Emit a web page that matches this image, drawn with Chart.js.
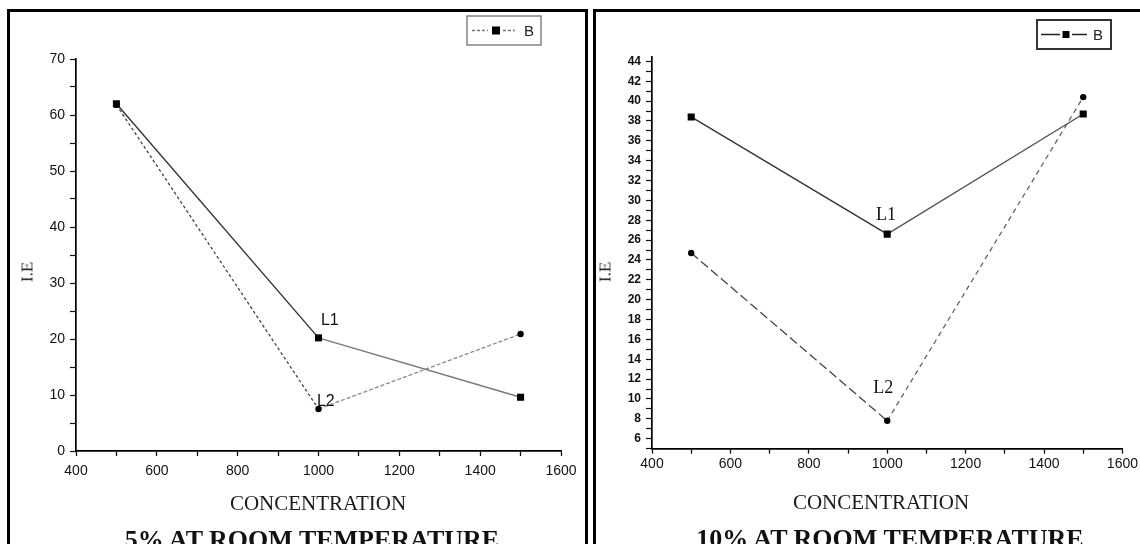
<!DOCTYPE html>
<html>
<head>
<meta charset="utf-8">
<script src="https://cdn.jsdelivr.net/npm/chart.js@4.4.0/dist/chart.umd.min.js"></script>
<style>
  html, body { margin:0; padding:0; background:#fff; width:1140px; height:544px; overflow:hidden; position:relative; }
  .panel { position:absolute; box-sizing:border-box; border:3px solid #000; border-bottom:none; }
  canvas { position:absolute; }
  .t { position:absolute; white-space:nowrap; color:#1a1a1a; line-height:1; }
  .serif { font-family:"Liberation Serif","DejaVu Serif",serif; }
  .axt { font-size:21px; transform:translate(-50%,-50%); }
  .ttl { font-size:26px; font-weight:bold; transform:translateX(-50%); color:#111; }
  .yt { font-size:17px; transform:translate(-50%,-50%) rotate(-90deg); }
</style>
</head>
<body>
<div class="panel" style="left:7px;top:9px;width:581px;height:600px;"></div>
<div class="panel" style="left:593px;top:9px;width:600px;height:600px;"></div>

<canvas id="c5" width="575" height="532" style="left:10px;top:12px;"></canvas>
<canvas id="c10" width="545" height="532" style="left:595px;top:12px;"></canvas>

<div class="t serif yt" style="left:27px;top:272px;">I.E</div>
<div class="t serif axt" style="left:318px;top:503px;">CONCENTRATION</div>
<div class="t serif ttl" style="left:312px;top:527px;">5% AT ROOM TEMPERATURE</div>

<div class="t serif yt" style="left:605px;top:272px;">I.E</div>
<div class="t serif axt" style="left:881px;top:502px;">CONCENTRATION</div>
<div class="t serif ttl" style="left:890px;top:526px;">10% AT ROOM TEMPERATURE</div>

<script>
// ---------- data ----------
const xValues = [500, 1000, 1500];
const l1At5 = [62, 20.2, 9.6];
const l2At5 = [61.8, 7.5, 20.9];
const l1At10 = [38.4, 26.6, 38.7];
const l2At10 = [24.7, 7.8, 40.4];
const seriesNames = ['L1', 'L2'];
const legendLabel = 'B';

const xTicks = [400, 600, 800, 1000, 1200, 1400, 1600];
const xMinorTicks = [500, 700, 900, 1100, 1300, 1500];
const yTicks5 = [0, 10, 20, 30, 40, 50, 60, 70];
const yMinorTicks5 = [5, 15, 25, 35, 45, 55, 65];
const yTicks10 = [6, 8, 10, 12, 14, 16, 18, 20, 22, 24, 26, 28, 30, 32, 34, 36, 38, 40, 42, 44];
const yMinorTicks10 = [5, 7, 9, 11, 13, 15, 17, 19, 21, 23, 25, 27, 29, 31, 33, 35, 37, 39, 41, 43];

// ---------- plugins ----------
const legendBox = {
  id: 'legendBox',
  afterDraw(chart, args, o) {
    const c = chart.ctx;
    c.save();
    c.strokeStyle = o.frameColor; c.lineWidth = o.frameWidth;
    c.strokeRect(o.x, o.y, o.w, o.h);
    const my = o.y + o.h / 2;
    c.strokeStyle = o.lineColor; c.lineWidth = 1.3; c.setLineDash(o.dash);
    c.beginPath();
    c.moveTo(o.l1[0], my); c.lineTo(o.l1[1], my);
    c.moveTo(o.l2[0], my); c.lineTo(o.l2[1], my);
    c.stroke();
    c.setLineDash([]);
    c.fillStyle = '#000';
    c.fillRect(o.sq - o.sqSize / 2, my - o.sqSize / 2, o.sqSize, o.sqSize);
    c.font = o.font; c.textAlign = 'center'; c.textBaseline = 'middle';
    c.fillStyle = '#222';
    c.fillText(o.text, o.tx, my + 1);
    c.restore();
  }
};

const pointNotes = {
  id: 'pointNotes',
  afterDatasetsDraw(chart, args, o) {
    const c = chart.ctx;
    c.save();
    c.font = o.font; c.fillStyle = '#111'; c.textAlign = 'center'; c.textBaseline = 'middle';
    for (const n of o.items) {
      c.fillText(n.text, chart.scales.x.getPixelForValue(n.x), chart.scales.y.getPixelForValue(n.y));
    }
    c.restore();
  }
};

const sans = '"Liberation Sans", Arial, sans-serif';
const serif = '"Liberation Serif", "Times New Roman", serif';

function pts(ys) { return xValues.map((x, i) => ({ x: x, y: ys[i] })); }

function makeChart(id, cfg) {
  const allX = xTicks.concat(xMinorTicks).sort((a, b) => a - b);
  const allY = cfg.yTicks.concat(cfg.yMinor).sort((a, b) => a - b);
  return new Chart(document.getElementById(id), {
    type: 'line',
    data: {
      datasets: [
        {
          label: seriesNames[1], data: pts(cfg.l2), order: 2,
          borderColor: '#555', borderWidth: 1.3, borderDash: cfg.l2Dash,
          segment: { borderColor: c => c.p0DataIndex === 0 ? '#444' : cfg.l2Second,
                     borderDash: c => c.p0DataIndex === 0 ? cfg.l2Dash : cfg.l2Dash2 },
          pointStyle: 'circle', pointRadius: 3.2, pointBackgroundColor: '#000', pointBorderColor: '#000', pointBorderWidth: 0,
          tension: 0, fill: false
        },
        {
          label: seriesNames[0], data: pts(cfg.l1), order: 1,
          borderColor: '#3a3a3a', borderWidth: 1.4,
          segment: { borderColor: c => c.p0DataIndex === 0 ? '#333' : cfg.l1Second },
          pointStyle: 'rect', pointRadius: 5, pointBackgroundColor: '#000', pointBorderColor: '#000', pointBorderWidth: 0,
          tension: 0, fill: false
        }
      ]
    },
    options: {
      responsive: false,
      animation: false,
      layout: { autoPadding: false, padding: cfg.padding },
      scales: {
        x: {
          type: 'linear', min: 400, max: 1600,
          afterBuildTicks: s => { s.ticks = allX.map(v => ({ value: v })); },
          afterFit: s => { s.height = cfg.xAxisH; },
          ticks: { autoSkip: false, maxRotation: 0, padding: cfg.xPad, color: '#111',
                   font: { family: sans, size: 14 },
                   callback: v => xTicks.includes(v) ? String(v) : '' },
          grid: { drawOnChartArea: false, drawTicks: true, tickLength: 5, color: '#111', tickWidth: 1.3 },
          border: { display: true, color: '#000', width: 1.7 }
        },
        y: {
          type: 'linear', min: cfg.yMin, max: cfg.yMax,
          afterBuildTicks: s => { s.ticks = allY.map(v => ({ value: v })); },
          afterFit: s => { s.width = cfg.yAxisW; },
          ticks: { autoSkip: false, padding: 5, color: '#111',
                   font: { family: sans, size: cfg.yFont, weight: cfg.yWeight },
                   callback: v => cfg.yTicks.includes(v) ? String(v) : '' },
          grid: { drawOnChartArea: false, drawTicks: true, tickLength: 6, color: '#111', tickWidth: 1.2 },
          border: { display: true, color: '#000', width: 1.7 }
        }
      },
      plugins: {
        legend: { display: false },
        tooltip: { enabled: false },
        legendBox: cfg.legend,
        pointNotes: cfg.notes
      }
    },
    plugins: [legendBox, pointNotes]
  });
}

makeChart('c5', {
  l1: l1At5, l2: l2At5,
  l2Dash: [3, 2.5], l2Dash2: [4, 2], l1Second: '#777', l2Second: '#8a8a8a',
  yMin: 0, yMax: 70, yTicks: yTicks5, yMinor: yMinorTicks5,
  padding: { left: 0, top: 47, right: 24, bottom: 0 },
  xAxisH: 93, yAxisW: 66, xPad: 7, yFont: 14, yWeight: 'normal',
  legend: { x: 457, y: 4, w: 74, h: 29, frameColor: '#666', frameWidth: 1.2, lineColor: '#777',
            dash: [3, 2], l1: [462, 478], l2: [493, 505], sq: 486, sqSize: 8,
            text: legendLabel, tx: 519, font: '15px ' + sans },
  notes: { font: '16px ' + sans,
           items: [ { text: seriesNames[0], x: 1028, y: 23.2 }, { text: seriesNames[1], x: 1018, y: 8.75 } ] }
});

makeChart('c10', {
  l1: l1At10, l2: l2At10,
  l2Dash: [9, 4], l2Dash2: [5, 4], l1Second: '#555', l2Second: '#666',
  yMin: 5, yMax: 44.5, yTicks: yTicks10, yMinor: yMinorTicks10,
  padding: { left: 0, top: 44.4, right: 12, bottom: 0 },
  xAxisH: 95.4, yAxisW: 57, xPad: 2, yFont: 12, yWeight: 'bold',
  legend: { x: 442, y: 8, w: 74, h: 29, frameColor: '#333', frameWidth: 2, lineColor: '#222',
            dash: [], l1: [446, 465], l2: [477, 492], sq: 471, sqSize: 7,
            text: legendLabel, tx: 503, font: '15px ' + sans },
  notes: { font: '18px ' + serif,
           items: [ { text: seriesNames[0], x: 997, y: 28.5 }, { text: seriesNames[1], x: 990, y: 11.1 } ] }
});
</script>
</body>
</html>
